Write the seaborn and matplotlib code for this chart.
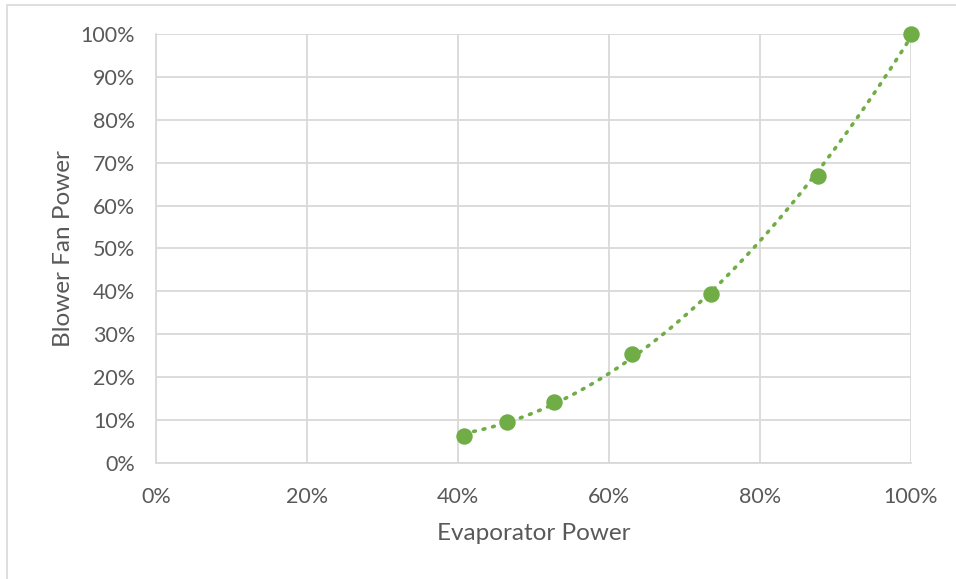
import numpy as np
import pandas as pd
import matplotlib
matplotlib.use("Agg")
import matplotlib.pyplot as plt
import seaborn as sns
from matplotlib.ticker import PercentFormatter, MultipleLocator
from matplotlib.patches import Rectangle

# Measured operating points (fraction of full load)
evaporator_power = [0.408, 0.465, 0.527, 0.631, 0.735, 0.877, 1.000]
blower_fan_power = [0.063, 0.096, 0.142, 0.254, 0.395, 0.670, 1.000]

df = pd.DataFrame({"Evaporator Power": evaporator_power,
                   "Blower Fan Power": blower_fan_power})

sns.set_theme(style="white")
plt.rcParams["font.family"] = ["Lato", "DejaVu Sans"]

text_color = "#595959"
grid_color = "#d9d9d9"
green = "#70ad47"

fig = plt.figure(figsize=(9.56, 5.79), dpi=100)
# chart-area border
fig.patches.append(Rectangle((7 / 956, -0.1), 1.2, 1 - 5 / 579 + 0.1,
                             transform=fig.transFigure, fill=False,
                             edgecolor=grid_color, linewidth=1.2))
ax = fig.add_axes([156 / 956, 116 / 579, 755 / 956, 429 / 579])

# polynomial trendline through the points
coef = np.polyfit(df["Evaporator Power"], df["Blower Fan Power"], 2)
xs = np.linspace(df["Evaporator Power"].min(), df["Evaporator Power"].max(), 200)
trend = pd.DataFrame({"x": xs, "y": np.polyval(coef, xs)})
sns.lineplot(data=trend, x="x", y="y", ax=ax, color=green, linewidth=2.6,
             linestyle=(0, (0.5, 2.2)), dash_capstyle="round", zorder=3)

sns.scatterplot(data=df, x="Evaporator Power", y="Blower Fan Power", ax=ax,
                color=green, s=140, edgecolor=green, linewidth=0, zorder=4,
                clip_on=False)

ax.set_xlim(0, 1)
ax.set_ylim(0, 1)
ax.xaxis.set_major_locator(MultipleLocator(0.2))
ax.yaxis.set_major_locator(MultipleLocator(0.1))
ax.xaxis.set_major_formatter(PercentFormatter(1.0, decimals=0))
ax.yaxis.set_major_formatter(PercentFormatter(1.0, decimals=0))
ax.grid(True, color=grid_color, linewidth=1.3)
ax.set_axisbelow(True)
for side in ["top", "right"]:
    ax.spines[side].set_visible(False)
for side in ["left", "bottom"]:
    ax.spines[side].set_color(grid_color)
    ax.spines[side].set_linewidth(1.3)

ax.tick_params(axis="both", length=0, labelsize=15.5, colors=text_color)
ax.tick_params(axis="x", pad=17)
ax.tick_params(axis="y", pad=15)
ax.set_xlabel("Evaporator Power", fontsize=17.5, color=text_color, labelpad=12)
ax.set_ylabel("Blower Fan Power", fontsize=17.5, color=text_color, labelpad=5)

fig.savefig("out.png", dpi=100)
